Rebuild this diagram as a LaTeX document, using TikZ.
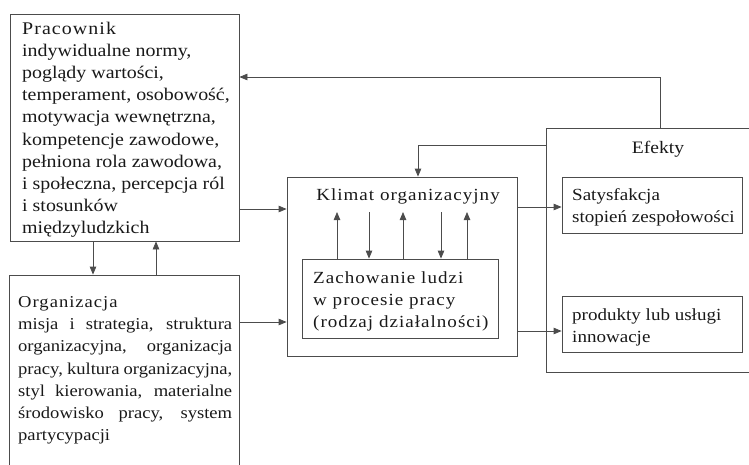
\documentclass[tikz,border=0pt]{standalone}
\usepackage{fontspec}
\setmainfont[FakeStretch=1.12]{Liberation Serif}
\newfontfamily\spacedfont[FakeStretch=1.12,LetterSpace=6]{Liberation Serif}
\usetikzlibrary{arrows.meta}

\begin{document}
\begin{tikzpicture}[x=1pt, y=-1pt,
    box/.style={rectangle, draw=black!70, line width=0.8pt, inner sep=0pt},
    txt/.style={inner sep=0pt, text=black!90, align=left},
    arrow/.style={draw=black!70, line width=0.8pt,
        -{Triangle[length=8pt, width=6.5pt]}},
    link/.style={draw=black!70, line width=0.8pt}
]
    \useasboundingbox (0,0) rectangle (749,464);
    \clip (0,0) rectangle (749,464);
    % boxes
    \node[box, minimum width=229pt, minimum height=227pt] (prac) at (124.5,127.5) {};
    \node[box, minimum width=230pt, minimum height=225pt] (org) at (124,387.5) {};
    \node[box, minimum width=230pt, minimum height=179pt] (klimat) at (402,266.5) {};
    \node[box, minimum width=196pt, minimum height=79pt] (zach) at (400,298.5) {};
    \node[box, minimum width=214pt, minimum height=244pt] (eff) at (653,250) {};
    \node[box, minimum width=180pt, minimum height=56pt] (sat) at (652,205) {};
    \node[box, minimum width=180pt, minimum height=56pt] (prod) at (652,324) {};
    \coordinate (klimTop) at (0,212);
    % texts
    \node[txt, anchor=north west, font=\fontsize{17.8}{22.1}\selectfont] (pracText) at (22,22)
        {{\spacedfont Pracownik}\\
         indywidualne normy,\\
         poglądy wartości,\\
         temperament, osobowość,\\
         motywacja wewnętrzna,\\
         kompetencje zawodowe,\\
         pełniona rola zawodowa,\\
         i społeczna, percepcja ról\\
         i stosunków\\
         międzyludzkich};
    \node[txt, anchor=north west, align=justify, text width=214pt,
        font=\fontsize{16.6}{22.3}\selectfont] (orgText) at (18,296)
        {{\spacedfont Organizacja}\\
         misja i strategia, struktura\linebreak
         organizacyjna, organizacja\linebreak
         pracy, kultura organizacyjna,\linebreak
         styl kierowania, materialne\linebreak
         środowisko pracy, system\linebreak
         partycypacji};
    \node[txt, anchor=base, font=\spacedfont\fontsize{17}{22}\selectfont] (klimText) at (408,200)
        {Klimat organizacyjny};
    \node[txt, anchor=north west, font=\spacedfont\fontsize{17}{22}\selectfont] (zachText) at (313,271)
        {Zachowanie ludzi\\ w procesie pracy\\ (rodzaj działalności)};
    \node[txt, anchor=base, font=\fontsize{17.5}{22}\selectfont] (effText) at (658,153) {Efekty};
    \node[txt, anchor=north west, font=\fontsize{17}{22}\selectfont] (satText) at (572,188)
        {Satysfakcja\\ stopień zespołowości};
    \node[txt, anchor=north west, font=\fontsize{17}{22}\selectfont] (prodText) at (572,308)
        {produkty lub usługi\\ innowacje};
    % connectors
    \draw[arrow] (prac.south -| 93,0) -- (org.north -| 93,0);
    \draw[arrow] (org.north -| 156,0) -- (prac.south -| 156,0);
    \draw[arrow] (prac.east |- 0,209) -- (klimat.west |- 0,209);
    \draw[arrow] (org.east |- 0,322) -- (klimat.west |- 0,322);
    \foreach \x in {337,403,467}
        \draw[arrow] (zach.north -| \x,0) -- (klimTop -| \x,0);
    \foreach \x in {369,441}
        \draw[arrow] (klimTop -| \x,0) -- (zach.north -| \x,0);
    \draw[arrow] (klimat.east |- 0,207) -- (sat.west |- 0,207);
    \draw[arrow] (klimat.east |- 0,331) -- (prod.west |- 0,331);
    \draw[arrow] (eff.north -| 660,0) |- (prac.east |- 0,77);
    \draw[arrow] (eff.west |- 0,145) -| (klimat.north -| 418,0);
\end{tikzpicture}
\end{document}
